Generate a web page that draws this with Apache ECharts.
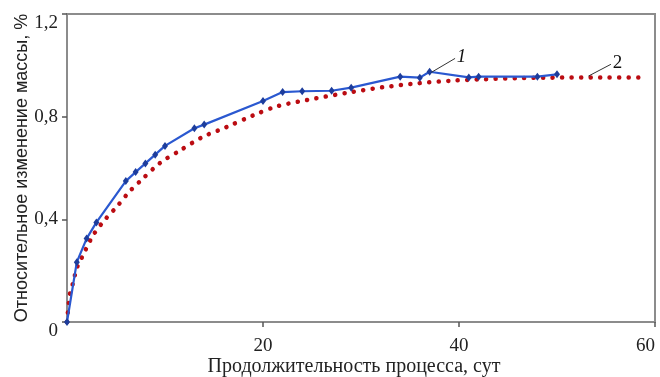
<!DOCTYPE html>
<html>
<head>
<meta charset="utf-8">
<script src="https://cdn.jsdelivr.net/npm/echarts@6/dist/echarts.min.js"></script>
<style>
  html, body { margin: 0; padding: 0; background: #fff; }
  #chart { width: 660px; height: 377px; }
</style>
</head>
<body>
<div id="chart"></div>
<script>
// Curve 1: measured relative mass change (days, %)
const days1 = [0, 1, 2, 3, 6, 7, 8, 9, 10, 13, 14, 20, 22, 24, 27, 29, 34, 36, 37, 41, 42, 48, 50];
const mass1 = [0, 0.233, 0.325, 0.388, 0.549, 0.584, 0.618, 0.652, 0.686, 0.755, 0.769, 0.861, 0.896, 0.899, 0.901, 0.913, 0.956, 0.952, 0.975, 0.953, 0.956, 0.956, 0.965];

// Curve 2: calculated relative mass change (days, %)
const days2 = [0, 0.3, 0.6, 1, 1.5, 2.7, 3.9, 5.1, 6.3, 7.5, 9.5, 11.4, 13.8, 16.3, 19, 21.4, 24.5, 28.9, 32.3, 35.8, 39.2, 42.6, 46, 49.4, 54.5, 58.3];
const mass2 = [0, 0.11, 0.15, 0.21, 0.25, 0.34, 0.40, 0.45, 0.505, 0.55, 0.62, 0.665, 0.72, 0.76, 0.805, 0.84, 0.865, 0.895, 0.915, 0.93, 0.94, 0.946, 0.95, 0.952, 0.953, 0.953];

// Axis ticks
const xTicks = { min: 0, max: 60, step: 20 };
const yTicks = { min: 0, max: 1.2, step: 0.4 };

// Curve labels with their leader lines: [from day, from value, to day, to value]
const curveLabels = [
  { text: '1', from: [37.2, 0.973], to: [39.6, 1.027] },
  { text: '2', from: [53.2, 0.958], to: [55.5, 1.004] }
];

const zip = (xs, ys) => xs.map((x, i) => [x, ys[i]]);

const serif = 'Liberation Serif';
const axisGray = '#8c8c8c';

function leader(lbl, italic) {
  return {
    silent: true,
    symbol: 'none',
    animation: false,
    lineStyle: { color: '#333', width: 1, type: 'solid' },
    label: {
      show: true,
      position: 'end',
      distance: 2,
      formatter: lbl.text,
      fontFamily: serif,
      fontSize: 19,
      fontStyle: italic ? 'italic' : 'normal',
      color: '#111'
    },
    emphasis: { disabled: true },
    data: [[{ coord: lbl.from }, { coord: lbl.to }]]
  };
}

const chart = echarts.init(document.getElementById('chart'), null, { renderer: 'canvas' });
chart.setOption({
  animation: false,
  backgroundColor: '#fff',
  grid: {
    left: 67, right: 5, top: 14, bottom: 55,
    containLabel: false,
    outerBoundsMode: 'none',
    show: true, borderColor: axisGray, borderWidth: 2, backgroundColor: 'transparent'
  },
  xAxis: {
    type: 'value',
    min: xTicks.min, max: xTicks.max, interval: xTicks.step,
    name: 'Продолжительность процесса, сут',
    nameLocation: 'middle',
    nameGap: 35,
    nameMoveOverlap: false,
    nameTextStyle: { fontFamily: serif, fontSize: 20, color: '#222', padding: [0, 14, 0, 0] },
    axisLine: { lineStyle: { color: axisGray, width: 2 } },
    axisTick: { inside: false, length: 5, lineStyle: { color: '#555', width: 1.5 } },
    axisLabel: {
      showMinLabel: false, margin: 15,
      alignMaxLabel: 'right',
      fontFamily: serif, fontSize: 19, color: '#222'
    },
    splitLine: { show: false }
  },
  yAxis: {
    type: 'value',
    min: yTicks.min, max: yTicks.max, interval: yTicks.step,
    name: 'Относительное изменение массы, %',
    nameLocation: 'middle',
    nameGap: 36,
    nameMoveOverlap: false,
    nameTextStyle: { fontFamily: 'Liberation Sans', fontSize: 18, color: '#222' },
    axisLine: { lineStyle: { color: axisGray, width: 2 } },
    axisTick: { inside: false, length: 5, lineStyle: { color: '#555', width: 1.5 } },
    axisLabel: {
      margin: 9,
      fontFamily: serif, fontSize: 19, color: '#222',
      verticalAlignMinLabel: 'top',
      verticalAlignMaxLabel: 'top',
      formatter: v => String(+v.toFixed(1)).replace('.', ',')
    },
    splitLine: { show: false }
  },
  series: [
    {
      name: '2',
      type: 'line',
      data: zip(days2, mass2),
      smooth: 0.3,
      showSymbol: false,
      symbol: 'none',
      z: 2,
      lineStyle: { color: '#bb0c12', width: 4.5, type: [0.1, 9.4], cap: 'round' },
      emphasis: { disabled: true },
      markLine: leader(curveLabels[1], false)
    },
    {
      name: '1',
      type: 'line',
      data: zip(days1, mass1),
      symbol: 'diamond',
      symbolSize: [6, 8],
      z: 3,
      itemStyle: { color: '#1d3d9c' },
      lineStyle: { color: '#2a58d0', width: 2.2 },
      emphasis: { disabled: true },
      markLine: leader(curveLabels[0], true)
    }
  ]
});
</script>
</body>
</html>
